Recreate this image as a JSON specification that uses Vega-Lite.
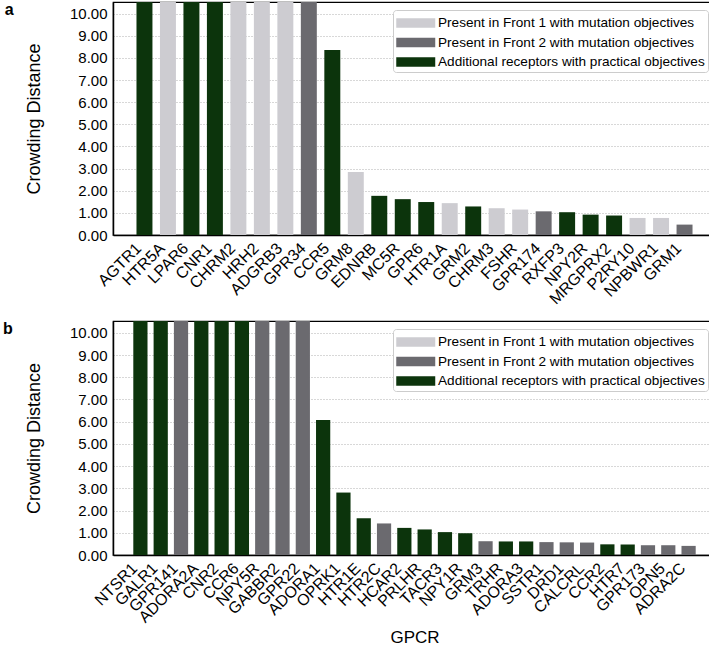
{
  "$schema": "https://vega.github.io/schema/vega-lite/v6.json",
  "padding": {"left": 2, "top": 1, "right": 1, "bottom": 0},
  "config": {
    "font": "Liberation Sans",
    "view": {"stroke": "black", "strokeWidth": 1.2},
    "axis": {
      "labelFont": "Liberation Sans", "labelFontSize": 15, "labelColor": "black",
      "titleFont": "Liberation Sans", "titleFontSize": 18, "titleFontWeight": "normal", "titleColor": "black",
      "ticks": false, "domainColor": "black", "domainWidth": 1.5
    },
    "legend": {
      "labelFont": "Liberation Sans", "labelFontSize": 13.6, "labelColor": "black", "labelLimit": 400,
      "symbolType": "M-1,-0.5H3V0.5H-1Z", "symbolSize": 380, "symbolStrokeWidth": 0, "symbolOpacity": 1,
      "labelOffset": 22, "rowPadding": 2.5, "padding": 3,
      "strokeColor": "#cccccc", "fillColor": "white", "cornerRadius": 3
    }
  },
  "datasets": {
    "a": [
      {"gpcr": "AGTR1", "distance": 11, "group": "Additional receptors with practical objectives"},
      {"gpcr": "HTR5A", "distance": 11, "group": "Present in Front 1 with mutation objectives"},
      {"gpcr": "LPAR6", "distance": 11, "group": "Additional receptors with practical objectives"},
      {"gpcr": "CNR1", "distance": 11, "group": "Additional receptors with practical objectives"},
      {"gpcr": "CHRM2", "distance": 11, "group": "Present in Front 1 with mutation objectives"},
      {"gpcr": "HRH2", "distance": 11, "group": "Present in Front 1 with mutation objectives"},
      {"gpcr": "ADGRB3", "distance": 11, "group": "Present in Front 1 with mutation objectives"},
      {"gpcr": "GPR34", "distance": 11, "group": "Present in Front 2 with mutation objectives"},
      {"gpcr": "CCR5", "distance": 8.36, "group": "Additional receptors with practical objectives"},
      {"gpcr": "GRM8", "distance": 2.85, "group": "Present in Front 1 with mutation objectives"},
      {"gpcr": "EDNRB", "distance": 1.77, "group": "Additional receptors with practical objectives"},
      {"gpcr": "MC5R", "distance": 1.62, "group": "Additional receptors with practical objectives"},
      {"gpcr": "GPR6", "distance": 1.49, "group": "Additional receptors with practical objectives"},
      {"gpcr": "HTR1A", "distance": 1.44, "group": "Present in Front 1 with mutation objectives"},
      {"gpcr": "GRM2", "distance": 1.29, "group": "Additional receptors with practical objectives"},
      {"gpcr": "CHRM3", "distance": 1.21, "group": "Present in Front 1 with mutation objectives"},
      {"gpcr": "FSHR", "distance": 1.15, "group": "Present in Front 1 with mutation objectives"},
      {"gpcr": "GPR174", "distance": 1.07, "group": "Present in Front 2 with mutation objectives"},
      {"gpcr": "RXFP3", "distance": 1.03, "group": "Additional receptors with practical objectives"},
      {"gpcr": "NPY2R", "distance": 0.92, "group": "Additional receptors with practical objectives"},
      {"gpcr": "MRGPRX2", "distance": 0.88, "group": "Additional receptors with practical objectives"},
      {"gpcr": "P2RY10", "distance": 0.77, "group": "Present in Front 1 with mutation objectives"},
      {"gpcr": "NPBWR1", "distance": 0.77, "group": "Present in Front 1 with mutation objectives"},
      {"gpcr": "GRM1", "distance": 0.47, "group": "Present in Front 2 with mutation objectives"}
    ],
    "b": [
      {"gpcr": "NTSR1", "distance": 11, "group": "Additional receptors with practical objectives"},
      {"gpcr": "GALR1", "distance": 11, "group": "Additional receptors with practical objectives"},
      {"gpcr": "GPR141", "distance": 11, "group": "Present in Front 2 with mutation objectives"},
      {"gpcr": "ADORA2A", "distance": 11, "group": "Additional receptors with practical objectives"},
      {"gpcr": "CNR2", "distance": 11, "group": "Additional receptors with practical objectives"},
      {"gpcr": "CCR6", "distance": 11, "group": "Additional receptors with practical objectives"},
      {"gpcr": "NPY5R", "distance": 11, "group": "Present in Front 2 with mutation objectives"},
      {"gpcr": "GABBR2", "distance": 11, "group": "Present in Front 2 with mutation objectives"},
      {"gpcr": "GPR22", "distance": 11, "group": "Present in Front 2 with mutation objectives"},
      {"gpcr": "ADORA1", "distance": 6.08, "group": "Additional receptors with practical objectives"},
      {"gpcr": "OPRK1", "distance": 2.81, "group": "Additional receptors with practical objectives"},
      {"gpcr": "HTR1E", "distance": 1.65, "group": "Additional receptors with practical objectives"},
      {"gpcr": "HTR2C", "distance": 1.42, "group": "Present in Front 2 with mutation objectives"},
      {"gpcr": "HCAR2", "distance": 1.22, "group": "Additional receptors with practical objectives"},
      {"gpcr": "PRLHR", "distance": 1.15, "group": "Additional receptors with practical objectives"},
      {"gpcr": "TACR3", "distance": 1.03, "group": "Additional receptors with practical objectives"},
      {"gpcr": "NPY1R", "distance": 0.98, "group": "Additional receptors with practical objectives"},
      {"gpcr": "GRM3", "distance": 0.62, "group": "Present in Front 2 with mutation objectives"},
      {"gpcr": "TRHR", "distance": 0.61, "group": "Additional receptors with practical objectives"},
      {"gpcr": "ADORA3", "distance": 0.61, "group": "Additional receptors with practical objectives"},
      {"gpcr": "SSTR1", "distance": 0.58, "group": "Present in Front 2 with mutation objectives"},
      {"gpcr": "DRD1", "distance": 0.57, "group": "Present in Front 2 with mutation objectives"},
      {"gpcr": "CALCRL", "distance": 0.56, "group": "Present in Front 2 with mutation objectives"},
      {"gpcr": "CCR2", "distance": 0.48, "group": "Additional receptors with practical objectives"},
      {"gpcr": "HTR7", "distance": 0.47, "group": "Additional receptors with practical objectives"},
      {"gpcr": "GPR173", "distance": 0.44, "group": "Present in Front 2 with mutation objectives"},
      {"gpcr": "OPN5", "distance": 0.44, "group": "Present in Front 2 with mutation objectives"},
      {"gpcr": "ADRA2C", "distance": 0.41, "group": "Present in Front 2 with mutation objectives"}
    ]
  },
  "resolve": {"legend": {"color": "independent"}},
  "spacing": 12,
  "vconcat": [
    {
      "width": 603, "height": 233,
      "data": {"name": "a"},
      "title": {"text": "a", "orient": "left", "anchor": "end", "angle": 0, "align": "right", "baseline": "top", "fontSize": 16, "fontWeight": "bold", "color": "black", "offset": 3},
      "mark": {"type": "bar", "clip": true},
      "encoding": {
        "x": {"field": "gpcr", "type": "nominal", "sort": null,
          "scale": {"paddingInner": 0.32, "paddingOuter": 1.15},
          "axis": {"title": null, "labelFontSize": 16, "labelAngle": -45, "labelBaseline": "bottom", "labelAlign": "right", "labelPadding": 16, "grid": false}},
        "y": {"field": "distance", "type": "quantitative",
          "scale": {"domain": [0, 10.53], "nice": false},
          "axis": {"title": "Crowding Distance", "values": [0,1,2,3,4,5,6,7,8,9,10], "format": ".2f", "grid": true, "gridDash": [1,2], "gridColor": "#b0b0b0", "labelPadding": 6, "titlePadding": 26}},
        "color": {"field": "group", "type": "nominal",
          "scale": {"domain": ["Present in Front 1 with mutation objectives", "Present in Front 2 with mutation objectives", "Additional receptors with practical objectives"], "range": ["#cdccd1", "#6b6a6f", "#0c340c"]},
          "legend": {"orient": "top-right", "offset": 8, "title": null}}
      }
    },
    {
      "width": 603, "height": 234,
      "data": {"name": "b"},
      "title": {"text": "b", "orient": "left", "anchor": "end", "angle": 0, "align": "right", "baseline": "top", "fontSize": 16, "fontWeight": "bold", "color": "black", "offset": 3},
      "mark": {"type": "bar", "clip": true},
      "encoding": {
        "x": {"field": "gpcr", "type": "nominal", "sort": null,
          "scale": {"paddingInner": 0.3, "paddingOuter": 1.45},
          "axis": {"title": "GPCR", "titleFontSize": 17, "labelFontSize": 16, "labelAngle": -45, "labelBaseline": "bottom", "labelAlign": "right", "labelPadding": 16, "grid": false, "titlePadding": 4}},
        "y": {"field": "distance", "type": "quantitative",
          "scale": {"domain": [0, 10.53], "nice": false},
          "axis": {"title": "Crowding Distance", "values": [0,1,2,3,4,5,6,7,8,9,10], "format": ".2f", "grid": true, "gridDash": [1,2], "gridColor": "#b0b0b0", "labelPadding": 6, "titlePadding": 26}},
        "color": {"field": "group", "type": "nominal",
          "scale": {"domain": ["Present in Front 1 with mutation objectives", "Present in Front 2 with mutation objectives", "Additional receptors with practical objectives"], "range": ["#cdccd1", "#6b6a6f", "#0c340c"]},
          "legend": {"orient": "top-right", "offset": 8, "title": null}}
      }
    }
  ]
}
